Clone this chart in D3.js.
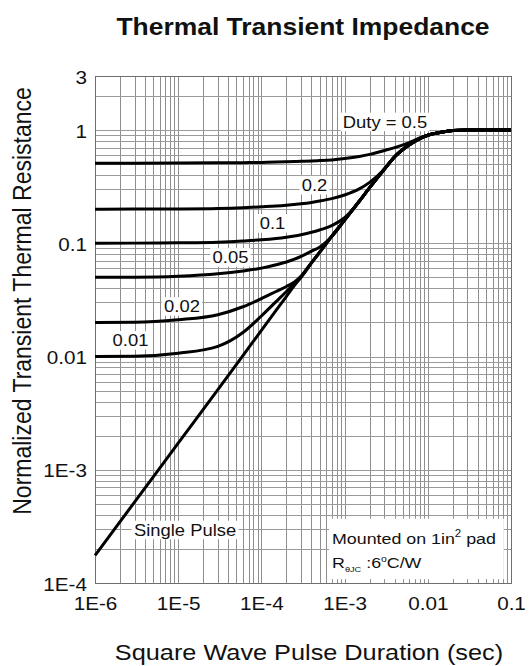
<!DOCTYPE html>
<html>
<head>
<meta charset="utf-8">
<script src="https://cdn.jsdelivr.net/npm/d3@7"></script>
<style>
  html, body { margin: 0; padding: 0; background: #fff; }
  svg { display: block; font-family: "Liberation Sans", Arial, Helvetica, sans-serif; }
</style>
</head>
<body>
<svg id="chart" width="532" height="666"></svg>
<script>
// Pulse duration (s) shared by every curve
const pulseTime = [1e-6, 3e-6, 1e-5, 3e-5, 6e-5, 1e-4, 1.5e-4, 2e-4, 2.5e-4, 3e-4, 4e-4, 5e-4, 7e-4,
                   1e-3, 1.5e-3, 2e-3, 3e-3, 4e-3, 6e-3, 8e-3, 1e-2, 1.5e-2, 2e-2, 3e-2, 5e-2, 1e-1];

// Normalized transient thermal resistance for each duty cycle
const singlePulse = [1.75e-4, 5.2e-4, 1.72e-3, 5.1e-3, 0.0102, 0.017, 0.0255, 0.034, 0.0425, 0.05, 0.067, 0.083, 0.115,
                     0.16, 0.235, 0.31, 0.45, 0.58, 0.74, 0.84, 0.9, 0.96, 0.99, 1.0, 1.0, 1.0];
const duty001 = [0.01, 0.01005, 0.0107, 0.0123, 0.0163, 0.0228, 0.0305, 0.0375, 0.0442, 0.0505, 0.067, 0.083, 0.115,
                 0.16, 0.235, 0.31, 0.45, 0.58, 0.74, 0.84, 0.9, 0.96, 0.99, 1.0, 1.0, 1.0];
const duty002 = [0.02, 0.02005, 0.0211, 0.0234, 0.0275, 0.0325, 0.0375, 0.0415, 0.0455, 0.0515, 0.0675, 0.083, 0.115,
                 0.16, 0.235, 0.31, 0.45, 0.58, 0.74, 0.84, 0.9, 0.96, 0.99, 1.0, 1.0, 1.0];
const duty005 = [0.05, 0.0501, 0.0511, 0.0537, 0.0569, 0.0603, 0.0646, 0.0684, 0.0724, 0.0767, 0.0851, 0.0923, 0.1148,
                 0.16, 0.235, 0.31, 0.45, 0.58, 0.74, 0.84, 0.9, 0.96, 0.99, 1.0, 1.0, 1.0];
const duty01 = [0.1, 0.1003, 0.1009, 0.1023, 0.1047, 0.1072, 0.1102, 0.1132, 0.1161, 0.1191, 0.125, 0.131, 0.143,
                0.168, 0.235, 0.31, 0.45, 0.58, 0.74, 0.84, 0.9, 0.96, 0.99, 1.0, 1.0, 1.0];
const duty02 = [0.2, 0.2003, 0.2009, 0.2028, 0.2061, 0.21, 0.2133, 0.2168, 0.2203, 0.2234, 0.2296, 0.236, 0.248,
                0.267, 0.302, 0.345, 0.45, 0.58, 0.74, 0.84, 0.9, 0.96, 0.99, 1.0, 1.0, 1.0];
const duty05 = [0.51, 0.51, 0.511, 0.513, 0.515, 0.518, 0.521, 0.524, 0.5265, 0.529, 0.533, 0.537, 0.545,
                0.56, 0.585, 0.61, 0.66, 0.70, 0.775, 0.85, 0.9, 0.96, 0.99, 1.0, 1.0, 1.0];

const seriesNames = ["Single Pulse", "0.01", "0.02", "0.05", "0.1", "0.2", "Duty = 0.5"];
const seriesValues = [singlePulse, duty001, duty002, duty005, duty01, duty02, duty05];

// Curve label anchors in data units (time, resistance)
const labelTime = [1.21e-5, 2.67e-6, 1.11e-5, 4.25e-5, 1.36e-4, 4.35e-4, 3.06e-3];
const labelLevel = [2.94e-4, 0.0139, 0.0277, 0.0751, 0.150, 0.326, 1.18];

// Axis ticks
const xTickValues = [1e-6, 1e-5, 1e-4, 1e-3, 1e-2, 1e-1];
const xTickLabels = ["1E-6", "1E-5", "1E-4", "1E-3", "0.01", "0.1"];
const yTickValues = [1e-4, 1e-3, 1e-2, 1e-1, 1, 3];
const yTickLabels = ["1E-4", "1E-3", "0.01", "0.1", "1", "3"];

// ---- layout ----
const SX = 1.15;               // horizontal glyph stretch used by the figure's type
const plot = { left: 95, right: 511, top: 76, bottom: 583 };

const svg = d3.select("#chart");

const x = d3.scaleLog().domain([1e-6, 1e-1]).range([plot.left, plot.right]);
const y = d3.scaleLog().domain([1e-4, 3]).range([plot.bottom, plot.top]);

// ---- grid ----
const xGrid = [];
for (let e = -6; e < -1; e++) for (let k = 1; k < 10; k++) xGrid.push(k * Math.pow(10, e));
xGrid.push(1e-1);
const yGrid = [];
for (let e = -4; e < 0; e++) for (let k = 1; k < 10; k++) yGrid.push(k * Math.pow(10, e));
yGrid.push(1, 2, 3);

const crisp = v => Math.round(v) + 0.5;
const grid = svg.append("g").attr("class", "grid");
grid.selectAll("line.v").data(xGrid).join("line")
  .attr("class", "v")
  .attr("x1", d => crisp(x(d))).attr("x2", d => crisp(x(d)))
  .attr("y1", plot.top).attr("y2", plot.bottom)
  .attr("stroke", "#8e8e8e").attr("stroke-width", 1);
grid.selectAll("line.h").data(yGrid).join("line")
  .attr("class", "h")
  .attr("y1", d => crisp(y(d))).attr("y2", d => crisp(y(d)))
  .attr("x1", plot.left).attr("x2", plot.right)
  .attr("stroke", "#9a9a9a").attr("stroke-width", 1);

// plot frame
svg.append("rect")
  .attr("x", crisp(plot.left)).attr("y", crisp(plot.top))
  .attr("width", Math.round(plot.right - plot.left)).attr("height", Math.round(plot.bottom - plot.top))
  .attr("fill", "none").attr("stroke", "#6e6e6e").attr("stroke-width", 1);

// ---- curves ----
const line = d3.line()
  .x(d => x(d[0]))
  .y(d => y(d[1]))
  .curve(d3.curveMonotoneX);

svg.append("g").attr("class", "curves")
  .selectAll("path")
  .data(seriesValues.map(vals => pulseTime.map((t, i) => [t, vals[i]])))
  .join("path")
  .attr("d", line)
  .attr("fill", "none")
  .attr("stroke", "#000")
  .attr("stroke-width", 3)
  .attr("stroke-linejoin", "round")
  .attr("stroke-linecap", "butt");

// ---- text helpers ----
function stretchedText(parent, px, py, str, opts = {}) {
  const g = parent.append("g").attr("transform", `translate(${px},${py}) scale(${SX},1)`);
  const t = g.append("text")
    .attr("text-anchor", opts.anchor || "middle")
    .attr("dy", opts.dy || "0.35em")
    .attr("font-size", opts.size || 16)
    .attr("font-weight", opts.weight || "normal")
    .attr("fill", opts.fill || "#111")
    .text(str);
  if (opts.background) {
    const b = t.node().getBBox();
    g.insert("rect", "text")
      .attr("x", b.x - 2).attr("y", b.y)
      .attr("width", b.width + 4).attr("height", b.height)
      .attr("fill", "#fff");
  }
  return g;
}

// ---- curve labels ----
const labels = svg.append("g").attr("class", "curve-labels");
seriesNames.forEach((name, i) => {
  stretchedText(labels, x(labelTime[i]), y(labelLevel[i]), name, { size: 16, background: true });
});

// ---- note box ----
const noteBox = { t0: 6.5e-4, t1: 8.2e-2, z0: 1.08e-4, z1: 3.7e-4 };
svg.append("rect")
  .attr("x", x(noteBox.t0)).attr("y", y(noteBox.z1))
  .attr("width", x(noteBox.t1) - x(noteBox.t0))
  .attr("height", y(noteBox.z0) - y(noteBox.z1))
  .attr("fill", "#fff");
const noteX = x(noteBox.t0) + 3;
const n1 = svg.append("g").attr("transform", `translate(${noteX},${y(noteBox.z1) + 25}) scale(${SX},1)`)
  .append("text").attr("font-size", 15.5).attr("fill", "#111");
n1.append("tspan").text("Mounted on 1in");
n1.append("tspan").attr("font-size", 10).attr("dy", -7).text("2");
n1.append("tspan").attr("dy", 7).text(" pad");
const n2 = svg.append("g").attr("transform", `translate(${noteX},${y(noteBox.z1) + 49}) scale(${SX},1)`)
  .append("text").attr("font-size", 15.5).attr("fill", "#111");
n2.append("tspan").text("R");
n2.append("tspan").attr("font-size", 8).attr("dy", 4).text("θJC");
n2.append("tspan").attr("dy", -4).text(" :6");
n2.append("tspan").attr("font-size", 9).attr("dy", -6).text("o");
n2.append("tspan").attr("dy", 6).text("C/W");

// ---- axes ----
const xAxis = d3.axisBottom(x)
  .tickValues(xTickValues)
  .tickFormat((d, i) => xTickLabels[i])
  .tickSize(0).tickPadding(0);
const gx = svg.append("g").attr("transform", `translate(0,${plot.bottom})`).call(xAxis);
gx.select(".domain").remove();
gx.selectAll("text")
  .attr("y", 27).attr("dy", 0)
  .attr("font-size", 18).attr("fill", "#111")
  .attr("font-family", "Liberation Sans, Arial, sans-serif")
  .attr("transform", `scale(${SX},1)`);

const yAxis = d3.axisLeft(y)
  .tickValues(yTickValues)
  .tickFormat((d, i) => yTickLabels[i])
  .tickSize(0).tickPadding(0);
const gy = svg.append("g").attr("transform", `translate(${plot.left},0)`).call(yAxis);
gy.select(".domain").remove();
gy.selectAll("text")
  .attr("x", -7).attr("dy", "0.4em")
  .attr("font-size", 18).attr("fill", "#111")
  .attr("font-family", "Liberation Sans, Arial, sans-serif")
  .attr("transform", `scale(${SX},1)`);

// ---- titles ----
stretchedText(svg, 303, 27, "Thermal Transient Impedance", { size: 23, weight: "bold", dy: 0 });
stretchedText(svg, 309, 652, "Square Wave Pulse Duration (sec)", { size: 22, dy: 0 });
svg.append("g")
  .attr("transform", `translate(31,301) scale(${SX},1) rotate(-90)`)
  .append("text")
  .attr("text-anchor", "middle")
  .attr("font-size", 23)
  .attr("fill", "#111")
  .text("Normalized Transient Thermal Resistance");
</script>
</body>
</html>
